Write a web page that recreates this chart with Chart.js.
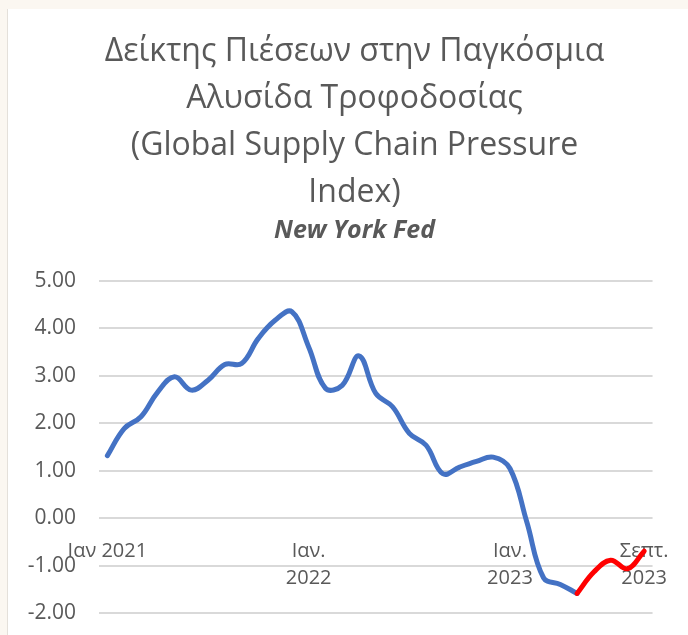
<!DOCTYPE html>
<html>
<head>
<meta charset="utf-8">
<script src="https://cdn.jsdelivr.net/npm/chart.js@4"></script>
<style>
  html, body { margin: 0; padding: 0; background: #fbf7f1; overflow: hidden; }
  #panel {
    position: absolute; left: 7px; top: 9px; width: 681px; height: 626px;
    background: #ffffff; border-left: 1px solid #e4e0da; box-sizing: border-box;
    overflow: hidden;
  }
  canvas { display: block; }
</style>
</head>
<body>
<div id="panel"><canvas id="gscpiChart" width="680" height="640"></canvas></div>
<script>
// monthly observations, Jan 2021 - Sep 2023
const months = [
  '2021-01', '2021-02', '2021-03', '2021-04', '2021-05', '2021-06',
  '2021-07', '2021-08', '2021-09', '2021-10', '2021-11', '2021-12',
  '2022-01', '2022-02', '2022-03', '2022-04', '2022-05', '2022-06',
  '2022-07', '2022-08', '2022-09', '2022-10', '2022-11', '2022-12',
  '2023-01', '2023-02', '2023-03', '2023-04', '2023-05', '2023-06',
  '2023-07', '2023-08', '2023-09'
];

const pastValues = [
  1.32, 1.89, 2.14, 2.66, 2.98, 2.70, 2.91, 3.24, 3.26, 3.79, 4.17, 4.35,
  3.61, 2.74, 2.80, 3.42, 2.63, 2.35, 1.79, 1.54, 0.94, 1.08, 1.20, 1.29,
  1.05, -0.07, -1.25, -1.39, -1.58, null, null, null, null
];

const recentValues = [
  null, null, null, null, null, null, null, null, null, null, null, null,
  null, null, null, null, null, null, null, null, null, null, null, null,
  null, null, null, null, -1.58, -1.13, -0.88, -1.06, -0.69
];

const tickLabels = {
  '2021-01': 'Ιαν 2021',
  '2022-01': ['Ιαν.', '2022'],
  '2023-01': ['Ιαν.', '2023'],
  '2023-09': ['Σεπτ.', '2023']
};

const titleLines = [
  'Δείκτης Πιέσεων στην Παγκόσμια',
  'Αλυσίδα Τροφοδοσίας',
  '(Global Supply Chain Pressure',
  'Index)'
];
const subtitleText = 'New York Fed';

const grey = '#595959';

// the title block sits a bit right of the canvas centre in the original
const shiftTitles = {
  id: 'shiftTitles',
  afterLayout(chart) {
    chart.boxes.forEach(b => {
      if (b.position === 'top' && !b.axis) {
        b.left += 24;
        b.right += 24;
      }
    });
  }
};

new Chart(document.getElementById('gscpiChart'), {
  type: 'line',
  data: {
    labels: months,
    datasets: [
      {
        label: 'recent',
        data: recentValues,
        borderColor: '#ff0000',
        borderWidth: 5,
        pointRadius: 0,
        tension: 0.4,
        borderCapStyle: 'round'
      },
      {
        label: 'GSCPI',
        data: pastValues,
        borderColor: '#4472c4',
        borderWidth: 5,
        pointRadius: 0,
        tension: 0.4,
        borderCapStyle: 'round'
      }
    ]
  },
  options: {
    responsive: false,
    animation: false,
    layout: { padding: { left: 0, right: 35, top: 0, bottom: 8 } },
    plugins: {
      legend: { display: false },
      tooltip: { enabled: false },
      title: {
        display: true,
        text: titleLines,
        color: grey,
        font: { family: '"Open Sans"', size: 32, weight: 'normal', lineHeight: 1.46 },
        padding: { top: 20, bottom: 0 }
      },
      subtitle: {
        display: true,
        text: subtitleText,
        color: grey,
        font: { family: '"Open Sans"', size: 25, weight: 'bold', style: 'italic', lineHeight: 1.2 },
        padding: { top: 0, bottom: 35 }
      }
    },
    scales: {
      x: {
        position: { y: 0 },
        offset: true,
        grid: { display: false, drawTicks: false },
        border: { display: false },
        ticks: {
          autoSkip: false,
          maxRotation: 0,
          color: grey,
          padding: 19,
          font: { family: '"Open Sans"', size: 20, lineHeight: 1.35 },
          callback: (value, index) => tickLabels[months[index]] || ''
        }
      },
      y: {
        min: -2,
        max: 5,
        afterFit: (scale) => { scale.width = 91; },
        grid: { color: '#d9d9d9', lineWidth: 2, drawTicks: false },
        border: { display: false },
        ticks: {
          stepSize: 1,
          color: grey,
          padding: 23,
          font: { family: '"Open Sans"', size: 21 },
          callback: (v) => v.toFixed(2)
        }
      }
    }
  },
  plugins: [shiftTitles]
});
</script>
</body>
</html>
